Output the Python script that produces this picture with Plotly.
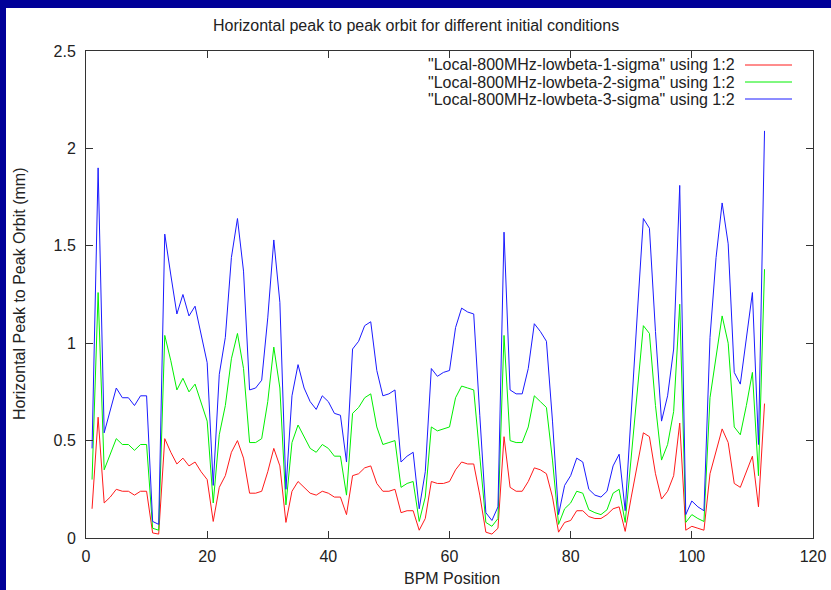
import plotly.graph_objects as go

# BPM index along the ring
bpm = list(range(1, 113))

sigma1 = [
    0.15, 0.62, 0.18, 0.21, 0.25, 0.24, 0.24, 0.22, 0.24, 0.24,
    0.026, 0.02, 0.51, 0.44, 0.38, 0.41, 0.37, 0.39, 0.34, 0.30,
    0.085, 0.26, 0.32, 0.44, 0.50, 0.41, 0.23, 0.23, 0.24, 0.34,
    0.46, 0.37, 0.08, 0.24, 0.29, 0.26, 0.23, 0.22, 0.24, 0.23,
    0.21, 0.21, 0.12, 0.32, 0.33, 0.36, 0.37, 0.28, 0.24, 0.24,
    0.25, 0.13, 0.14, 0.14, 0.04, 0.10, 0.29, 0.28, 0.28, 0.29,
    0.35, 0.39, 0.38, 0.38, 0.22, 0.03, 0.02, 0.05, 0.52, 0.26,
    0.24, 0.24, 0.29, 0.36, 0.35, 0.33, 0.21, 0.03, 0.08, 0.09,
    0.14, 0.14, 0.11, 0.10, 0.10, 0.12, 0.15, 0.16, 0.034, 0.21,
    0.38, 0.54, 0.52, 0.33, 0.20, 0.24, 0.32, 0.59, 0.04, 0.06,
    0.05, 0.04, 0.33, 0.45, 0.56, 0.49, 0.28, 0.26, 0.34, 0.42,
    0.16, 0.69,
]

sigma2 = [
    0.30, 1.26, 0.35, 0.43, 0.51, 0.48, 0.48, 0.45, 0.48, 0.48,
    0.05, 0.04, 1.04, 0.91, 0.76, 0.82, 0.75, 0.79, 0.69, 0.60,
    0.18, 0.53, 0.68, 0.92, 1.05, 0.87, 0.49, 0.49, 0.51, 0.70,
    0.98, 0.77, 0.17, 0.49, 0.58, 0.52, 0.46, 0.44, 0.48, 0.46,
    0.42, 0.42, 0.22, 0.64, 0.67, 0.72, 0.74, 0.57, 0.48, 0.49,
    0.50, 0.26, 0.28, 0.29, 0.085, 0.21, 0.57, 0.55, 0.56, 0.57,
    0.72, 0.78, 0.77, 0.76, 0.42, 0.08, 0.06, 0.10, 1.04, 0.50,
    0.49, 0.49, 0.57, 0.73, 0.70, 0.67, 0.40, 0.07, 0.15, 0.18,
    0.24, 0.23, 0.145, 0.13, 0.12, 0.145, 0.23, 0.25, 0.08, 0.41,
    0.77, 1.09, 1.05, 0.68, 0.40, 0.48, 0.65, 1.20, 0.08, 0.12,
    0.10, 0.085, 0.72, 0.92, 1.14, 1.00, 0.57, 0.53, 0.68, 0.85,
    0.32, 1.38,
]

sigma3 = [
    0.46, 1.90, 0.54, 0.65, 0.77, 0.72, 0.72, 0.68, 0.73, 0.73,
    0.085, 0.07, 1.56, 1.35, 1.15, 1.25, 1.14, 1.19, 1.04, 0.90,
    0.27, 0.84, 1.03, 1.44, 1.64, 1.37, 0.76, 0.77, 0.81, 1.13,
    1.53, 1.21, 0.25, 0.73, 0.89, 0.77, 0.70, 0.66, 0.73, 0.70,
    0.64, 0.63, 0.39, 0.97, 1.01, 1.09, 1.11, 0.86, 0.73, 0.74,
    0.76, 0.39, 0.42, 0.44, 0.15, 0.34, 0.87, 0.83, 0.85, 0.86,
    1.08, 1.18, 1.16, 1.15, 0.63, 0.13, 0.09, 0.16, 1.57, 0.76,
    0.74, 0.74, 0.87, 1.10, 1.06, 1.01, 0.60, 0.12, 0.27, 0.32,
    0.41, 0.39, 0.25, 0.22, 0.21, 0.24, 0.37, 0.43, 0.14, 0.62,
    1.15, 1.64, 1.59, 1.06, 0.60, 0.73, 0.97, 1.81, 0.12, 0.19,
    0.16, 0.14, 1.03, 1.44, 1.72, 1.51, 0.85, 0.79, 1.03, 1.26,
    0.48, 2.09,
]

labels = [
    '"Local-800MHz-lowbeta-1-sigma" using 1:2',
    '"Local-800MHz-lowbeta-2-sigma" using 1:2',
    '"Local-800MHz-lowbeta-3-sigma" using 1:2',
]
colors = ["#ff1a1a", "#00f000", "#1a1aff"]

W, H = 831, 590
ML, MR, MT, MB = 86, 18, 51, 52
PW, PH = W - ML - MR, H - MT - MB


def px_x(p):
    return (p - ML) / PW


def px_y(p):
    return (H - MB - p) / PH


font = "Liberation Sans, Arial, sans-serif"
ink = "#222222"
tfont = dict(size=16, color=ink, family=font)

fig = go.Figure()
for ys, name, c in zip([sigma1, sigma2, sigma3], labels, colors):
    fig.add_trace(go.Scatter(x=bpm, y=ys, mode="lines", name=name,
                             line=dict(color=c, width=1), showlegend=False))

# gnuplot-style key: right-aligned text with the sample line on its right
shapes = []
annotations = []
for i, (name, c) in enumerate(zip(labels, colors)):
    yy = px_y(65 + 17 * i)
    annotations.append(dict(x=px_x(737), y=yy, xref="paper", yref="paper",
                            text=name, showarrow=False, xanchor="right",
                            yanchor="middle", font=tfont))
    shapes.append(dict(type="line", xref="paper", yref="paper",
                       x0=px_x(745), x1=px_x(792), y0=yy, y1=yy,
                       line=dict(color=c, width=1)))

# axis titles placed like gnuplot's
annotations.append(dict(x=px_x(452), y=px_y(578), xref="paper", yref="paper",
                        text="BPM Position", showarrow=False,
                        xanchor="center", yanchor="middle", font=tfont))
annotations.append(dict(x=px_x(19), y=px_y(294), xref="paper", yref="paper",
                        text="Horizontal Peak to Peak Orbit (mm)", showarrow=False,
                        textangle=-90, xanchor="center", yanchor="middle", font=tfont))

# dark blue slide frame on the left and top
frame = "#000099"
shapes.append(dict(type="rect", xref="paper", yref="paper", layer="above",
                   x0=px_x(0), x1=px_x(6), y0=px_y(H), y1=px_y(0),
                   fillcolor=frame, line=dict(width=0)))
shapes.append(dict(type="rect", xref="paper", yref="paper", layer="above",
                   x0=px_x(0), x1=px_x(W), y0=px_y(8), y1=px_y(0),
                   fillcolor=frame, line=dict(width=0)))

axis_common = dict(
    showgrid=False, zeroline=False, showline=True, linecolor="#333333",
    linewidth=1, mirror="ticks", ticks="inside", ticklen=7, tickcolor="#333333",
    tickfont=tfont, automargin=False,
)

fig.update_layout(
    width=W, height=H,
    margin=dict(l=ML, r=MR, t=MT, b=MB),
    paper_bgcolor="white", plot_bgcolor="white",
    title=dict(text="Horizontal peak to peak orbit for different initial conditions",
               x=px_x(450), xanchor="center", y=1 - 25 / H, yanchor="middle",
               font=tfont),
    xaxis=dict(range=[0, 120], dtick=20, ticklabelstandoff=4, **axis_common),
    yaxis=dict(range=[0, 2.5], dtick=0.5, ticklabelstandoff=6, **axis_common),
    shapes=shapes,
    annotations=annotations,
)

# the page's default 8px body margin would shift the figure off the window
fig.write_html("out.html", config={"displayModeBar": False},
               post_script="document.body.style.margin='0';document.body.style.overflow='hidden';")
